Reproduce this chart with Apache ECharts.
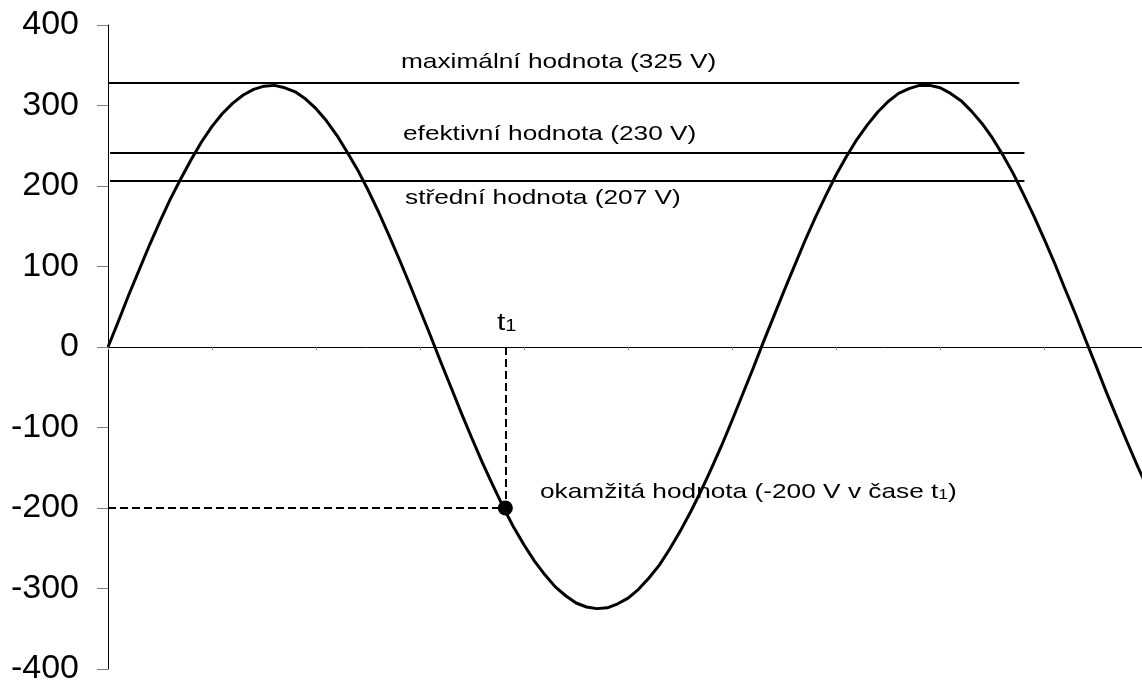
<!DOCTYPE html>
<html>
<head>
<meta charset="utf-8">
<script src="https://cdn.jsdelivr.net/npm/echarts@6/dist/echarts.min.js"></script>
<style>
  html, body { margin: 0; padding: 0; background: #fff; }
  #graph { width: 1142px; height: 686px; }
</style>
</head>
<body>
<div id="graph"></div>
<script>
var chart = echarts.init(document.getElementById('graph'));

// phase (radians) every 0.1, voltage
var phaseStep = 0.1;
var volts = [
    0, 32, 65, 96, 127, 156, 184, 209, 233, 255,
    274, 290, 303, 313, 320, 324, 325, 322, 317, 308,
    296, 281, 263, 242, 220, 195, 168, 139, 109, 78,
    46, 14, -19, -51, -83, -114, -144, -172, -199, -224,
    -246, -266, -283, -298, -309, -318, -323, -325, -324, -319,
    -312, -301, -287, -271, -251, -229, -205, -179, -151, -122,
    -91, -59, -27, 6, 38, 70, 101, 132, 161, 188,
    214, 237, 258, 276, 292, 305, 315, 321, 325, 325,
    322, 315, 306, 293, 278, 260, 239, 216, 190, 163,
    134, 104, 72, 41, 8, -24, -57, -88, -119, -149,
    -177
];

// horizontal levels: maximum, effective, mean (as drawn)
var levels = [328, 241, 207];
var levelStart = [0, 0.02, 0.02];
var levelEnd = [8.76, 8.81, 8.81];

// instantaneous value at t1
var t1 = 3.82;
var u1 = -200;

var yTicks = [-400, -300, -200, -100, 0, 100, 200, 300, 400];

var sine = volts.map(function (v, i) { return [+(i * phaseStep).toFixed(2), v]; });

var levelLines = levels.map(function (v, i) {
    return [{ coord: [levelStart[i], v] }, { coord: [levelEnd[i], v] }];
});

var dashStyle = { color: '#000', width: 2, type: [8, 4] };
var guideLines = [
    [{ coord: [0, u1], lineStyle: dashStyle }, { coord: [t1, u1] }],
    [{ coord: [t1, 0], lineStyle: dashStyle }, { coord: [t1, u1] }]
];

var txtFont = '"Liberation Sans", Arial, sans-serif';

function note(x, y, text, size) {
    return {
        type: 'text',
        x: x,
        y: y,
        scaleX: 1.25,
        z: 10,
        style: {
            text: text,
            fill: '#000',
            font: size + 'px ' + txtFont,
            verticalAlign: 'middle',
            rich: {
                n: { fontSize: size, fontFamily: txtFont, fill: '#000' },
                s: { fontSize: Math.round(size * 0.65), fontFamily: txtFont, fill: '#000', verticalAlign: 'bottom' }
            }
        }
    };
}

option = {
    animation: false,
    backgroundColor: '#fff',
    grid: {
        left: 108,
        right: 0,
        top: 25,
        bottom: 12
    },
    xAxis: {
        type: 'value',
        min: 0,
        max: 9.94,
        interval: 1,
        axisLine: { onZero: true, lineStyle: { color: '#000', width: 1 } },
        axisTick: { show: true, length: 3, lineStyle: { color: '#808080' } },
        axisLabel: { show: false },
        splitLine: { show: false }
    },
    yAxis: {
        type: 'value',
        min: yTicks[0],
        max: yTicks[yTicks.length - 1],
        interval: 100,
        axisLine: { show: true, onZero: false, lineStyle: { color: '#000', width: 1 } },
        axisTick: { show: true, length: 11, lineStyle: { color: '#808080' } },
        axisLabel: {
            color: '#000',
            fontSize: 34,
            fontFamily: txtFont,
            margin: 29
        },
        splitLine: { show: false }
    },
    series: [
        {
            type: 'line',
            data: sine,
            smooth: false,
            symbol: 'none',
            clip: false,
            lineStyle: { color: '#000', width: 3, join: 'round' },
            z: 3,
            markLine: {
                silent: true,
                symbol: 'none',
                label: { show: false },
                lineStyle: { color: '#000', width: 2, type: 'solid' },
                data: levelLines.concat(guideLines)
            }
        },
        {
            type: 'scatter',
            data: [[t1, u1]],
            symbol: 'circle',
            symbolSize: 15,
            itemStyle: { color: '#000', opacity: 1 },
            z: 5
        }
    ],
    graphic: [
        note(401, 62, 'maximální hodnota (325 V)', 21),
        note(403, 134, 'efektivní hodnota (230 V)', 21),
        note(405, 198, 'střední hodnota (207 V)', 21),
        note(540, 492, '{n|okamžitá hodnota (-200 V v čase t}{s|1}{n|)}', 21),
        note(497, 323, '{n|t}{s|1}', 24)
    ]
};

option && chart.setOption(option);
</script>
</body>
</html>
